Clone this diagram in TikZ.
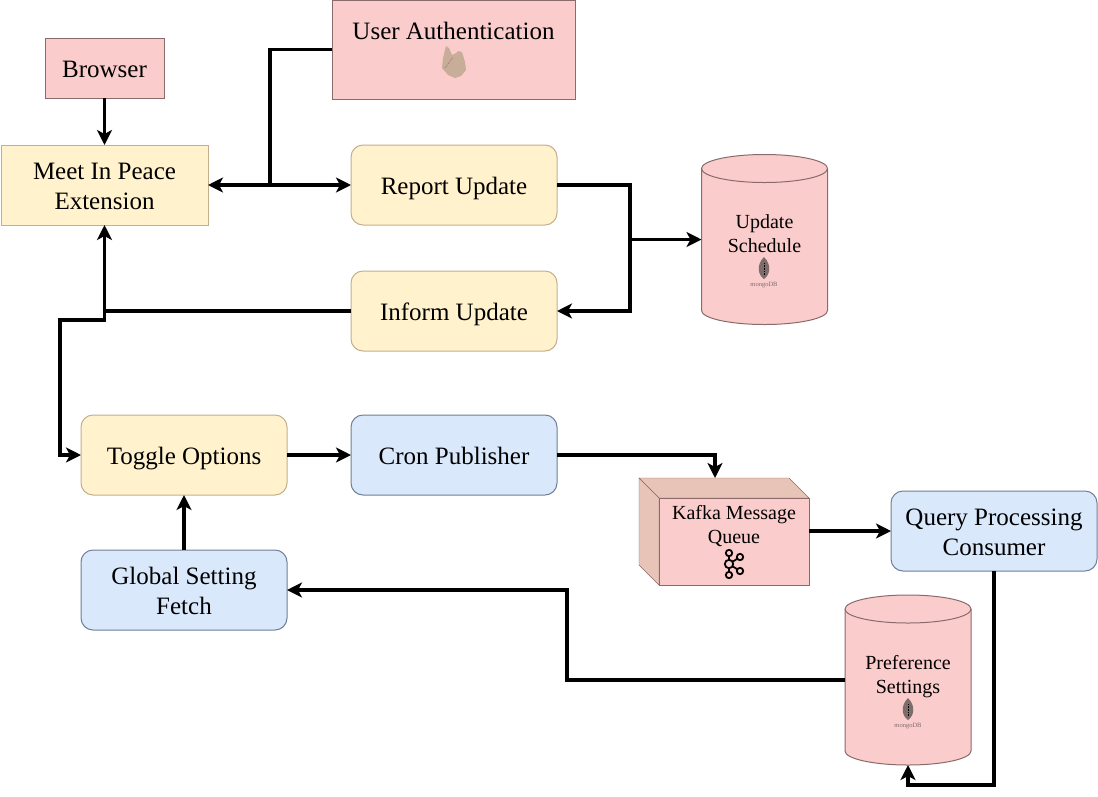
\documentclass[tikz,border=0pt]{standalone}
\usepackage{fontspec}
\setmainfont{Liberation Serif}
\usetikzlibrary{arrows.meta}
\definecolor{pinkfill}{HTML}{FBCCCC}
\definecolor{pinkline}{HTML}{8A6A6A}
\definecolor{yellowfill}{HTML}{FFF2CC}
\definecolor{yellowline}{HTML}{C4AE8C}
\definecolor{bluefill}{HTML}{DAE8FC}
\definecolor{blueline}{HTML}{6F7F96}
\definecolor{sidefill}{HTML}{E8C4B8}
\definecolor{flamecol}{HTML}{C8AD98}
\definecolor{leafcol}{HTML}{7D6C6A}
\newcommand{\bigfont}{\fontsize{25}{30}\selectfont}
\newcommand{\smallfont}{\fontsize{20}{24}\selectfont}
\newcommand{\bigprop}{\rule[-6pt]{0pt}{30pt}}
\newcommand{\smallprop}{\rule[-5.3pt]{0pt}{24pt}}
\newcommand{\boxw}{206pt}
\newcommand{\boxh}{80pt}
\newcommand{\mongoicon}[2]{
  \fill[leafcol] (#1,#2-11) .. controls (#1+8,#2-3) and (#1+6,#2+7) .. (#1,#2+11)
    .. controls (#1-6,#2+7) and (#1-8,#2-3) .. (#1,#2-11);
  \draw[black,densely dotted,line width=0.6pt] (#1,#2-5) -- (#1,#2+7);
  \node[text=leafcol,font=\fontsize{6.5}{6.5}\selectfont,inner sep=0pt] (mongo#1) at (#1,#2+17) {mongoDB};
}
\newcommand{\dbbody}[2]{
  \filldraw[draw=pinkline,fill=pinkfill,line width=1pt] (#1-63,#2-71)
    .. controls (#1-63,#2-78.7) and (#1-35,#2-85) .. (#1,#2-85)
    .. controls (#1+35,#2-85) and (#1+63,#2-78.7) .. (#1+63,#2-71)
    -- (#1+63,#2+71)
    .. controls (#1+63,#2+78.7) and (#1+35,#2+85) .. (#1,#2+85)
    .. controls (#1-35,#2+85) and (#1-63,#2+78.7) .. (#1-63,#2+71)
    -- cycle;
  \draw[pinkline,line width=1pt] (#1-63,#2-71)
    .. controls (#1-63,#2-63.3) and (#1-35,#2-57) .. (#1,#2-57)
    .. controls (#1+35,#2-57) and (#1+63,#2-63.3) .. (#1+63,#2-71);
}
\tikzset{
  x=1pt,y=-1pt,
  boxnode/.style={draw,line width=1pt,inner sep=0pt,outer sep=0pt,align=center,font=\bigfont,
    execute at begin node=\bigprop,execute at end node=\bigprop,
    minimum width=\boxw,minimum height=\boxh},
  pinknode/.style={boxnode,fill=pinkfill,draw=pinkline},
  yellownode/.style={boxnode,fill=yellowfill,draw=yellowline},
  bluenode/.style={boxnode,fill=bluefill,draw=blueline,rounded corners=12pt},
  softnode/.style={boxnode,fill=yellowfill,draw=yellowline,rounded corners=12pt},
  dbnode/.style={inner sep=0pt,outer sep=0pt,minimum width=126pt,minimum height=170pt},
  biglabel/.style={inner sep=0pt,outer sep=0pt,align=center,font=\bigfont,
    execute at begin node=\bigprop,execute at end node=\bigprop},
  smalllabel/.style={inner sep=0pt,outer sep=0pt,align=center,font=\smallfont,
    execute at begin node=\smallprop,execute at end node=\smallprop},
  conn/.style={line width=3.2pt,-{Stealth[length=15pt,width=15pt,inset=4pt]}},
  plainconn/.style={line width=3.2pt},
  dualconn/.style={line width=3.2pt,{Stealth[length=15pt,width=15pt,inset=4pt]}-{Stealth[length=15pt,width=15pt,inset=4pt]}}
}
\begin{document}
\begin{tikzpicture}
    \useasboundingbox (0,0) rectangle (1098,796);
    % top left part
    \node[pinknode,minimum width=119pt,minimum height=60pt] (browser) at (104.5,68) {Browser};
    \node[yellownode,minimum width=207pt] (meet) at (104.5,185) {};
    \node[biglabel] (meetlabel) at (104.5,189) {Meet In Peace\\Extension};
    \node[pinknode,minimum width=243pt,minimum height=99pt] (auth) at (453.5,49.5) {};
    \node[biglabel] (authlabel) at (453.5,30.5) {User Authentication};
    \fill[flamecol] (446,46) -- (449,48) -- (452,55) -- (456,53) -- (458,51) -- (462,52) -- (465,62)
      -- (466,70) -- (461,76) -- (455,78) -- (448,75) -- (442,68) -- (443,58) -- cycle;
    \draw[pinkline,densely dotted,line width=0.7pt] (445,68) -- (453,57);
    % update part
    \node[softnode] (report) at (454,185) {Report Update};
    \node[softnode] (inform) at (454,311) {Inform Update};
    \dbbody{764.5}{239.5}
    \node[dbnode] (update) at (764.5,239.5) {};
    \node[smalllabel] (updatelabel) at (764.5,236) {Update\\Schedule};
    \mongoicon{764}{268}
    % toggle part
    \node[softnode] (toggle) at (184,455) {Toggle Options};
    \node[bluenode] (cron) at (454,455) {Cron Publisher};
    \node[bluenode] (global) at (184,590) {};
    \node[biglabel] (globallabel) at (184,594) {Global Setting\\Fetch};
    \node[bluenode] (query) at (994,531) {};
    \node[biglabel] (querylabel) at (994,535) {Query Processing\\Consumer};
    % kafka part
    \fill[sidefill,draw=pinkline] (639,478) -- (789,478) -- (809,498) -- (659,498) -- cycle;
    \fill[sidefill,draw=pinkline] (639,478) -- (659,498) -- (659,585) -- (639,565) -- cycle;
    \node[pinknode,minimum width=150pt,minimum height=87pt] (kafka) at (734,541.5) {};
    \node[smalllabel] (kafkalabel) at (734,527) {Kafka Message\\Queue};
    \draw[black,line width=1.8pt] (729,553) -- (729,575) (729,564) -- (740,557) (729,564) -- (740,571);
    \foreach \cx/\cy/\cr in {729/553/3.2,729/575/3.2,740/557/3.2,740/571/3.2,729/564/4.2}
      \filldraw[draw=black,fill=pinkfill,line width=1.8pt] (\cx,\cy) circle[radius=\cr];
    % preference part
    \dbbody{908}{680}
    \node[dbnode] (pref) at (908,680) {};
    \node[smalllabel] (preflabel) at (908,677) {Preference\\Settings};
    \mongoicon{908}{709}
    % free corners
    \coordinate (authjoin) at (270,185);
    \coordinate (updatejoin) at (630,239.5);
    \coordinate (meetjoin) at (104.5,311);
    \coordinate (meetdrop) at (104.5,320);
    \coordinate (meetleft) at (60,320);
    \coordinate (kafkatop) at (715,478);
    \coordinate (queryturn) at (994,785);
    \coordinate (globalturn) at (567,590);
    % connectors
    \draw[conn] (browser) -- (meet);
    \draw[dualconn] (meet.east |- report) -- (report.west);
    \draw[plainconn] (auth.west) -| (authjoin);
    \draw[conn] (report.east) -| (updatejoin) -- (update.west);
    \draw[conn] (updatejoin) |- (inform.east);
    \draw[conn] (inform.west) -| (meet.south);
    \draw[conn] (meetjoin) -- (meetdrop) -- (meetleft) |- (toggle.west);
    \draw[conn] (toggle) -- (cron);
    \draw[conn] (cron.east) -| (kafkatop);
    \draw[conn] (kafka.east |- query) -- (query.west);
    \draw[conn] (query.south) -- (queryturn) -| (pref.south);
    \draw[conn] (pref.west) -| (globalturn) -- (global.east);
    \draw[conn] (global) -- (toggle);
\end{tikzpicture}
\end{document}
